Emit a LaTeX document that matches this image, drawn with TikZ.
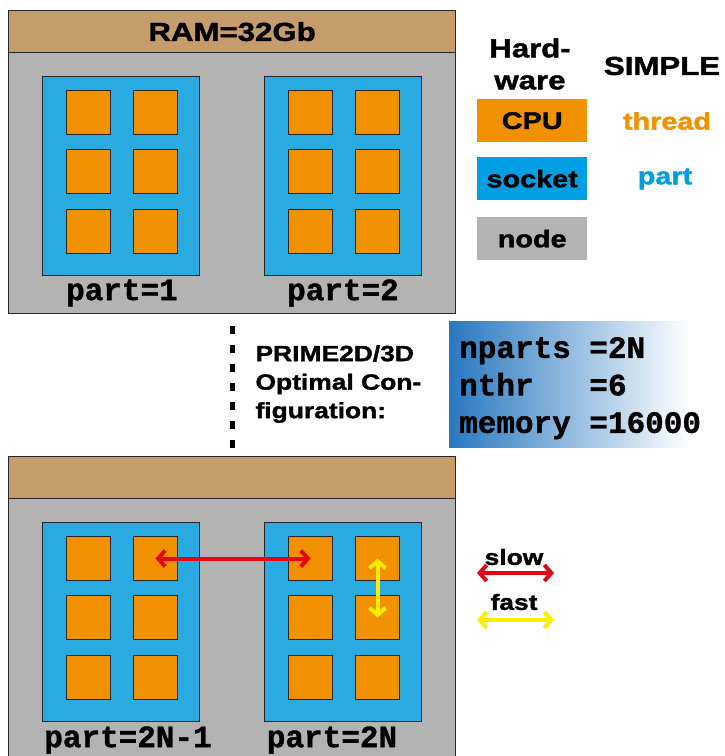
\documentclass[tikz,border=0pt]{standalone}
\usepackage{fontspec}
\setmainfont{Liberation Sans}[FakeStretch=1.2,BoldFeatures={FakeBold=1.6}]
\setmonofont{Liberation Mono}[BoldFeatures={FakeBold=1.2}]
\usepackage{tikz}
\usetikzlibrary{arrows.meta,positioning}

\definecolor{nodegray}{RGB}{179,179,179}
\definecolor{ramtan}{RGB}{198,156,109}
\definecolor{sockblue}{RGB}{41,171,226}
\definecolor{legblue}{RGB}{0,159,227}
\definecolor{cpuorange}{RGB}{242,145,0}
\definecolor{slowred}{RGB}{227,6,19}
\definecolor{fastyellow}{RGB}{255,237,0}
\definecolor{confblue}{RGB}{40,120,192}

\tikzset{
  hwnode/.style={draw=black!85,line width=1.2pt,fill=nodegray,minimum width=447pt,minimum height=303pt,inner sep=0pt},
  header/.style={draw=black!85,line width=1.2pt,fill=ramtan,minimum width=447pt,minimum height=42pt,inner sep=0pt},
  socket/.style={draw=black!85,line width=1pt,fill=sockblue,minimum width=157pt,minimum height=199pt,inner sep=0pt},
  cpu/.style={draw=black!85,line width=1pt,fill=cpuorange,minimum width=44pt,minimum height=44pt,inner sep=0pt},
  legbox/.style={minimum width=110pt,minimum height=43pt,inner sep=0pt,font=\fontsize{24}{28}\selectfont\bfseries},
  partlbl/.style={font=\fontsize{31}{36}\selectfont\ttfamily\bfseries},
  slowarr/.style={slowred,line width=4pt,{Straight Barb[length=7pt,width=16pt]}-{Straight Barb[length=7pt,width=16pt]}},
  fastarr/.style={fastyellow,line width=4pt,{Straight Barb[length=7pt,width=16pt]}-{Straight Barb[length=7pt,width=16pt]}}
}

\begin{document}
\begin{tikzpicture}[x=1pt,y=-1pt,font=\bfseries]
  \useasboundingbox (0,0) rectangle (725,756);

  % two machines, each with two sockets of six cores
  \foreach \m/\dy in {1/0,2/446}{
    \node[hwnode,anchor=north west] (node\m) at (8,10+\dy) {};
    \node[header,anchor=north west] (head\m) at (8,10+\dy) {};
    \foreach \s/\dx in {1/42,2/264}{
      \node[socket,anchor=north west] (sock-\m-\s) at (\dx,76+\dy) {};
      \foreach \r/\ry in {1/14,2/73,3/133}
        \foreach \c/\cx in {1/24,2/91}
          \node[cpu,anchor=north west] (cpu-\m-\s-\r-\c) at (\dx+\cx,76+\dy+\ry) {};
    }
  }
  \node[font=\fontsize{26}{30}\selectfont\bfseries] (ram) at (head1.center) {RAM=32Gb};

  \node[partlbl] (part1) at (122,293) {part=1};
  \node[partlbl] (part2) at (343,293) {part=2};
  \node[partlbl] (part3) at (128,740) {part=2N-1};
  \node[partlbl] (part4) at (332,740) {part=2N};

  % legend
  \node[align=center,font=\fontsize{26}{32}\selectfont\bfseries] (hw) at (530,64) {Hard-\\ware};
  \node[font=\fontsize{26}{30}\selectfont\bfseries] (simple) at (662,66) {SIMPLE};
  \node[legbox,fill=cpuorange,anchor=north west] (lcpu) at (477,99) {CPU};
  \node[legbox,fill=legblue,anchor=north west] (lsock) at (477,157) {socket};
  \node[legbox,fill=nodegray,anchor=north west] (lnode) at (477,217) {node};
  \node[font=\fontsize{24}{28}\selectfont\bfseries,text=cpuorange] (thr) at (667,121) {thread};
  \node[font=\fontsize{24}{28}\selectfont\bfseries,text=legblue] (lpart) at (665,179) {part};

  % configuration
  \draw[line width=5pt,dash pattern=on 8pt off 11pt] ([yshift=-12pt]node1.south) -- ([yshift=8pt]node2.north);
  \node[align=left,anchor=west,font=\fontsize{22}{28.5}\selectfont\bfseries] (prime) at (252,384) {PRIME2D/3D\\Optimal Con-\\figuration:};
  \node[anchor=north west,minimum width=241pt,minimum height=126pt,inner sep=0pt,
        left color=confblue,right color=white] (cfgbox) at (449,321) {};
  \node[anchor=west,align=left,inner sep=0pt,font=\fontsize{31}{37.5}\selectfont\ttfamily\bfseries] (cfg) at ([xshift=10pt,yshift=-4pt]cfgbox.west)
    {nparts~=2N\\nthr~~~=6\\memory~=16000};

  % communication
  \draw[slowarr] (cpu-2-1-1-2.center) -- (cpu-2-2-1-1.center);
  \draw[fastarr] (cpu-2-2-1-2.center) -- (cpu-2-2-2-2.center);

  \node[font=\fontsize{22}{26}\selectfont\bfseries] (slow) at (514,557) {slow};
  \node[font=\fontsize{22}{26}\selectfont\bfseries] (fast) at (514,602) {fast};
  \coordinate (slowa) at (477,573);
  \coordinate (slowb) at (554,573);
  \coordinate (fasta) at (477,620);
  \coordinate (fastb) at (554,620);
  \draw[slowarr] (slowa) -- (slowb);
  \draw[fastarr] (fasta) -- (fastb);
\end{tikzpicture}
\end{document}
